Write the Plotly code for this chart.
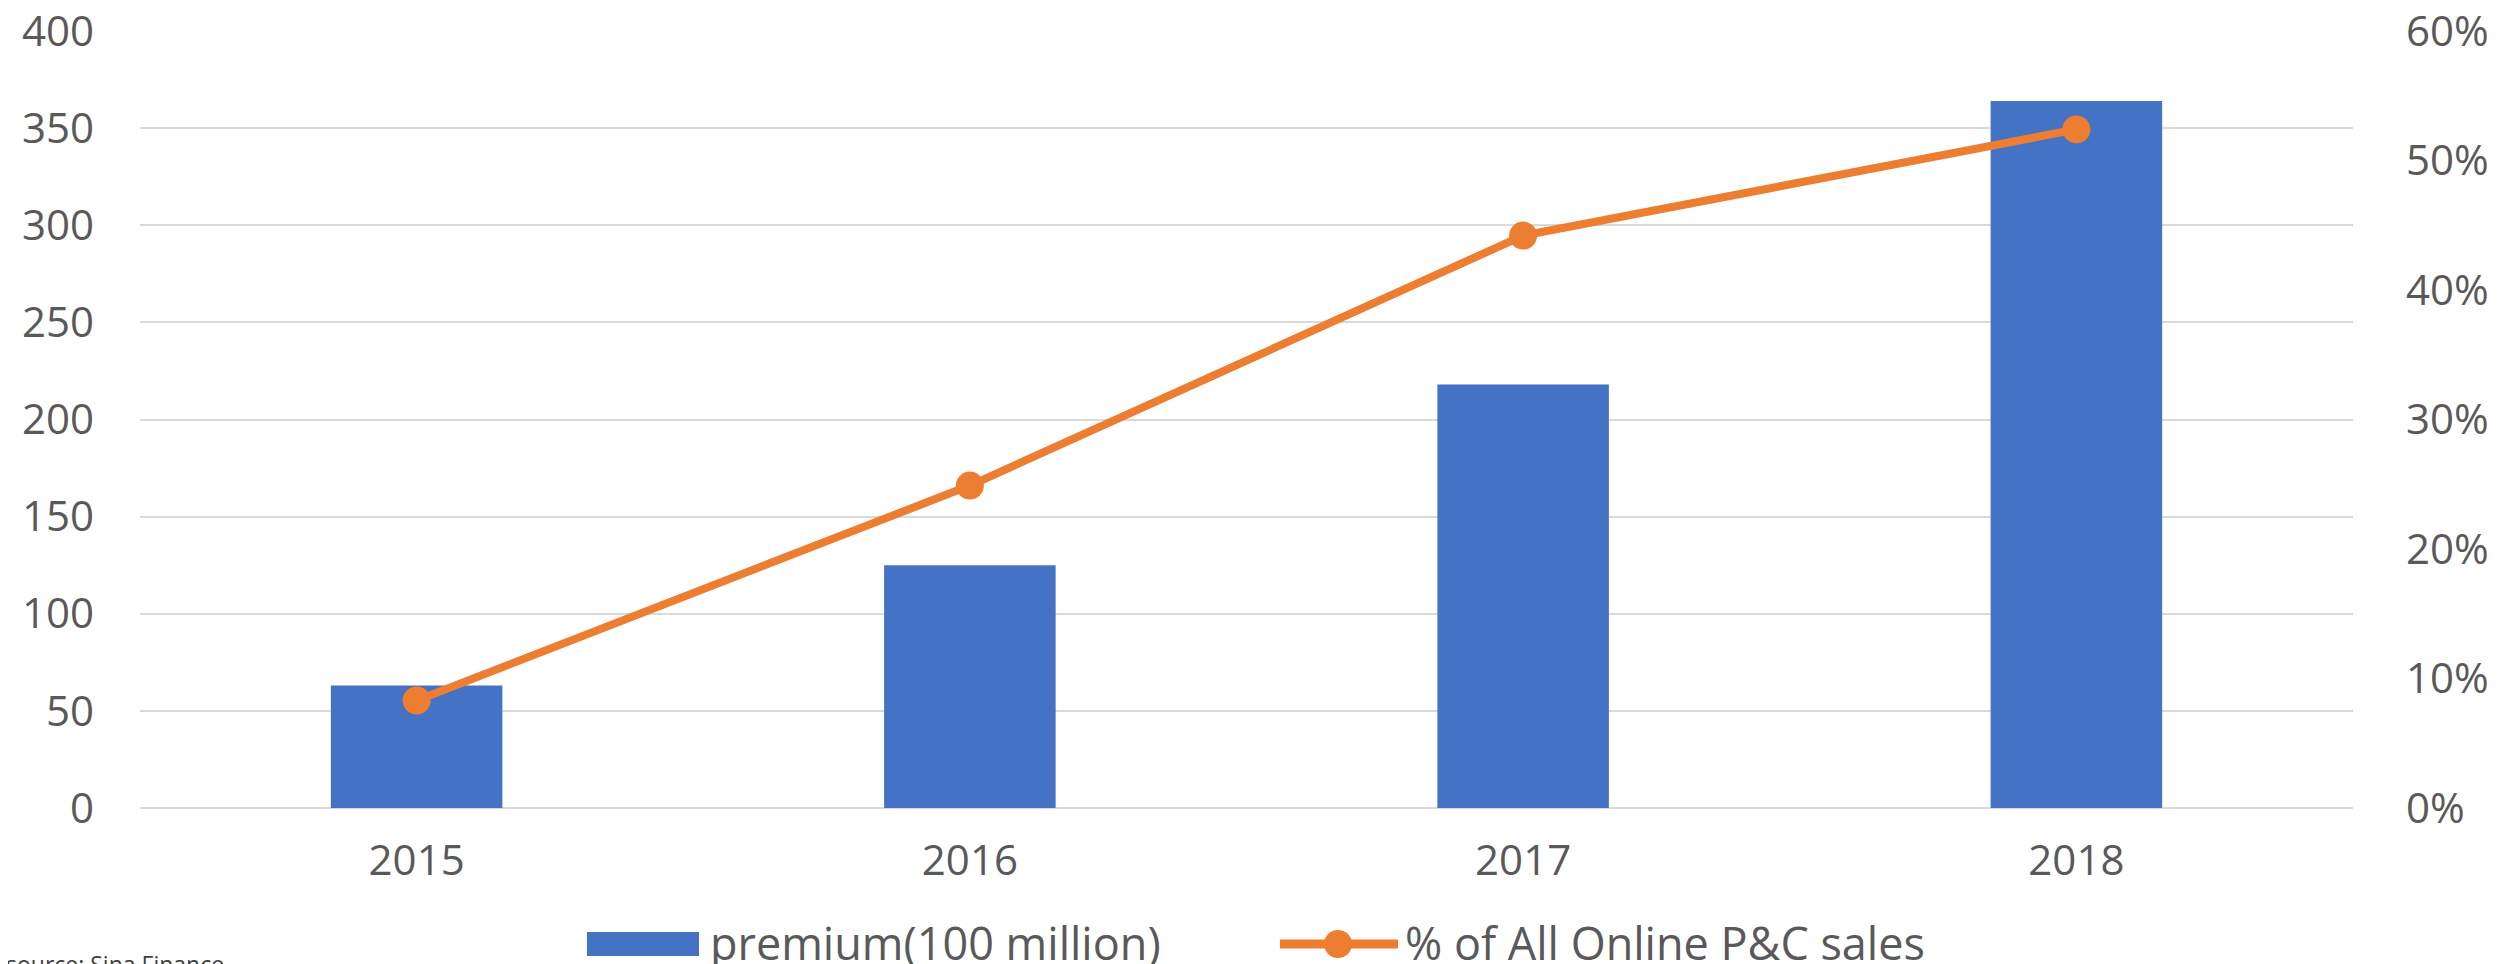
import plotly.graph_objects as go

# data
years = ["2015", "2016", "2017", "2018"]
premium = [63, 125, 218, 364]          # premium (100 million)
online_share = [0.083, 0.249, 0.442, 0.524]   # % of all online P&C sales
bar_name = "premium(100 million)"
line_name = "% of All Online P&C sales"

BLUE = "#4472C4"
ORANGE = "#ED7D31"
GRID = "#D9D9D9"
TXT = "#595959"
FONT = "Open Sans"

# the page body has an 8px margin, so the figure is a bit smaller than the window
OFF = 8
W, H = 2501 - OFF, 964 - OFF
L, R, T, B = 140 - OFF, 148, 31 - OFF, 156
PW, PH = W - L - R, H - T - B


def px(x):   # screen pixel x -> paper x
    return (x - OFF - L) / PW


def py(y):   # screen pixel y -> paper y
    return (H - B - (y - OFF)) / PH


fig = go.Figure()

fig.add_trace(go.Bar(
    x=years, y=premium, name=bar_name,
    marker={"color": BLUE, "line": {"width": 0}},
    width=0.31, yaxis="y",
))

fig.add_trace(go.Scatter(
    x=years, y=online_share, name=line_name,
    mode="lines+markers", yaxis="y2",
    line={"color": ORANGE, "width": 8},
    marker={"color": ORANGE, "size": 28},
))

##############################################################
# legend drawn by hand so the keys look like the Excel ones
shapes = [
    {"type": "rect", "xref": "paper", "yref": "paper",
     "x0": px(587), "x1": px(699), "y0": py(956), "y1": py(932),
     "fillcolor": BLUE, "line": {"width": 0}},
    {"type": "line", "xref": "paper", "yref": "paper",
     "x0": px(1280), "x1": px(1398), "y0": py(944), "y1": py(944),
     "line": {"color": ORANGE, "width": 9}},
    {"type": "circle", "xref": "paper", "yref": "paper",
     "x0": px(1324), "x1": px(1352), "y0": py(958), "y1": py(930),
     "fillcolor": ORANGE, "line": {"width": 0}},
]

annotations = [
    {"text": bar_name, "showarrow": False, "xref": "paper", "yref": "paper",
     "x": px(708), "xanchor": "left", "y": py(942), "yanchor": "middle",
     "font": {"size": 45, "color": TXT}},
    {"text": line_name, "showarrow": False, "xref": "paper", "yref": "paper",
     "x": px(1403), "xanchor": "left", "y": py(942), "yanchor": "middle",
     "font": {"size": 45, "color": TXT}},
    {"text": "source: Sina Finance", "showarrow": False,
     "xref": "paper", "yref": "paper",
     "x": px(4), "xanchor": "left", "y": py(946), "yanchor": "top",
     "font": {"size": 23, "color": "#404040"}},
]

fig.update_layout(
    width=W, height=H,
    margin={"l": L, "r": R, "t": T, "b": B},
    paper_bgcolor="white", plot_bgcolor="white",
    font={"family": FONT, "color": TXT},
    showlegend=False,
    xaxis={
        "type": "category", "range": [-0.5, 3.5], "automargin": False,
        "showgrid": False, "showline": False, "zeroline": False,
        "tickfont": {"size": 42, "color": TXT},
        "ticks": "", "ticklabelstandoff": 24, "ticklabeloverflow": "allow",
    },
    yaxis={
        "range": [0, 400], "dtick": 50, "automargin": False,
        "showgrid": True, "gridcolor": GRID, "gridwidth": 2,
        "zeroline": True, "zerolinecolor": GRID, "zerolinewidth": 2,
        "showline": False,
        "tickfont": {"size": 42, "color": TXT},
        "ticks": "", "ticklabelstandoff": 45, "ticklabeloverflow": "allow",
    },
    yaxis2={
        "range": [0, 0.6], "dtick": 0.1, "tickformat": ".0%",
        "overlaying": "y", "side": "right", "automargin": False,
        "showgrid": False, "zeroline": False, "showline": False,
        "tickfont": {"size": 42, "color": TXT},
        "ticks": "", "ticklabelstandoff": 52, "ticklabeloverflow": "allow",
    },
    shapes=shapes,
    annotations=annotations,
)

fig.write_html("out.html")
